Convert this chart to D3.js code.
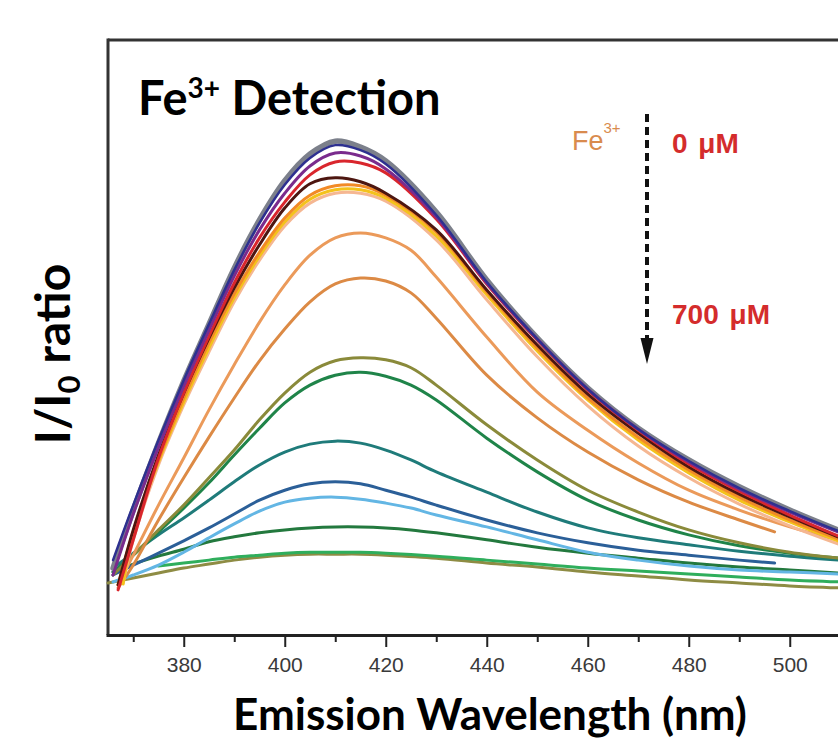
<!DOCTYPE html>
<html>
<head>
<meta charset="utf-8">
<script src="https://cdn.jsdelivr.net/npm/d3@7"></script>
<style>
  body { margin: 0; background: #fff; }
  svg { display: block; }
</style>
</head>
<body>
<div id="chart"></div>
<script>
// tick labels on the wavelength axis
const majorTicks = [380, 400, 420, 440, 460, 480, 500];
const minorTicks = [370, 390, 410, 430, 450, 470, 490, 510];

// emission spectra, [wavelength nm, I/I0] (0 uM on top -> 700 uM at bottom)
const sGray = [[366,0.135],[370,0.252],[375,0.387],[380,0.512],[385,0.627],[390,0.740],[395,0.837],[400,0.916],[405,0.970],[410,0.996],[415,0.984],[420,0.956],[430,0.853],[440,0.716],[450,0.599],[460,0.498],[470,0.417],[480,0.353],[490,0.299],[500,0.252],[510,0.210]];
const sNavy = [[366,0.151],[370,0.262],[375,0.393],[380,0.514],[385,0.627],[390,0.736],[395,0.831],[400,0.908],[405,0.962],[410,0.988],[415,0.978],[420,0.950],[430,0.847],[440,0.712],[450,0.597],[460,0.496],[470,0.415],[480,0.351],[490,0.296],[500,0.250],[510,0.208]];
const sPurple = [[366,0.121],[370,0.244],[375,0.379],[380,0.502],[385,0.615],[390,0.724],[395,0.817],[400,0.891],[405,0.946],[410,0.972],[415,0.966],[420,0.940],[430,0.843],[440,0.710],[450,0.597],[460,0.496],[470,0.415],[480,0.349],[490,0.294],[500,0.248],[510,0.206]];
const sRed = [[367,0.091],[370,0.192],[375,0.357],[380,0.488],[385,0.603],[390,0.710],[395,0.801],[400,0.873],[405,0.928],[410,0.954],[415,0.952],[420,0.932],[430,0.839],[440,0.708],[450,0.595],[460,0.494],[470,0.413],[480,0.345],[490,0.290],[500,0.242],[510,0.198]];
const sBrown = [[367,0.101],[370,0.212],[375,0.363],[380,0.488],[385,0.599],[390,0.700],[395,0.787],[400,0.861],[405,0.910],[410,0.922],[415,0.914],[420,0.891],[430,0.817],[440,0.696],[450,0.585],[460,0.486],[470,0.407],[480,0.339],[490,0.284],[500,0.238],[510,0.196]];
const sOrange = [[367,0.101],[370,0.208],[375,0.353],[380,0.478],[385,0.589],[390,0.688],[395,0.772],[400,0.841],[405,0.887],[410,0.906],[415,0.906],[420,0.887],[430,0.813],[440,0.692],[450,0.579],[460,0.478],[470,0.399],[480,0.333],[490,0.278],[500,0.232],[510,0.192]];
const sYellow = [[368,0.103],[370,0.204],[375,0.349],[380,0.470],[385,0.579],[390,0.680],[395,0.764],[400,0.833],[405,0.879],[410,0.898],[415,0.898],[420,0.881],[430,0.805],[440,0.686],[450,0.573],[460,0.474],[470,0.393],[480,0.327],[490,0.272],[500,0.228],[510,0.188]];
const sPeach = [[368,0.105],[370,0.192],[375,0.343],[380,0.464],[385,0.571],[390,0.672],[395,0.756],[400,0.825],[405,0.871],[410,0.891],[415,0.891],[420,0.875],[430,0.797],[440,0.676],[450,0.561],[460,0.462],[470,0.381],[480,0.317],[490,0.264],[500,0.220],[510,0.182]];
const sOrange1 = [[367,0.101],[370,0.161],[375,0.262],[380,0.357],[385,0.454],[390,0.545],[395,0.631],[400,0.706],[405,0.766],[410,0.801],[415,0.811],[420,0.801],[425,0.776],[430,0.722],[440,0.601],[450,0.490],[460,0.413],[470,0.347],[480,0.292],[490,0.252],[500,0.218],[510,0.190]];
const sOrange2 = [[367,0.095],[370,0.141],[375,0.232],[380,0.317],[385,0.399],[390,0.478],[395,0.553],[400,0.617],[405,0.672],[410,0.708],[415,0.720],[420,0.714],[425,0.690],[430,0.639],[440,0.524],[450,0.438],[460,0.369],[470,0.313],[480,0.268],[490,0.232],[497,0.208]];
const sOlive = [[366,0.121],[370,0.161],[375,0.212],[380,0.262],[385,0.317],[390,0.373],[395,0.434],[400,0.488],[405,0.530],[410,0.553],[415,0.559],[420,0.555],[425,0.539],[430,0.504],[440,0.424],[450,0.353],[460,0.292],[470,0.248],[480,0.212],[490,0.186],[500,0.167],[510,0.155]];
const sGreen = [[366,0.127],[370,0.161],[375,0.208],[380,0.256],[385,0.307],[390,0.363],[395,0.417],[400,0.468],[405,0.504],[410,0.524],[415,0.530],[420,0.522],[425,0.504],[430,0.474],[440,0.397],[450,0.329],[460,0.272],[470,0.232],[480,0.202],[490,0.180],[500,0.165],[510,0.155]];
const sTeal = [[366,0.135],[370,0.165],[375,0.202],[380,0.236],[385,0.272],[390,0.309],[395,0.343],[400,0.369],[405,0.385],[410,0.391],[415,0.387],[420,0.373],[425,0.353],[430,0.329],[440,0.288],[450,0.248],[460,0.216],[470,0.196],[480,0.182],[490,0.169],[500,0.159],[510,0.151]];
const sBlue = [[366,0.121],[370,0.141],[375,0.165],[380,0.190],[385,0.216],[390,0.244],[395,0.272],[400,0.292],[405,0.305],[410,0.309],[415,0.305],[420,0.292],[425,0.278],[430,0.262],[440,0.232],[450,0.206],[460,0.186],[470,0.171],[480,0.161],[490,0.151],[497,0.145]];
const sSky = [[366,0.107],[370,0.121],[375,0.141],[380,0.167],[385,0.196],[390,0.224],[395,0.250],[400,0.268],[405,0.276],[410,0.278],[415,0.274],[420,0.266],[425,0.256],[430,0.242],[440,0.218],[450,0.192],[460,0.167],[470,0.151],[480,0.139],[490,0.131],[500,0.127],[510,0.123]];
const sDkGreen = [[366,0.127],[370,0.143],[375,0.159],[380,0.173],[385,0.188],[390,0.198],[395,0.206],[400,0.212],[405,0.216],[410,0.218],[415,0.218],[420,0.216],[425,0.212],[430,0.206],[440,0.192],[450,0.177],[460,0.165],[470,0.155],[480,0.145],[490,0.137],[500,0.131],[510,0.125]];
const sLtGreen = [[375,0.139],[380,0.145],[385,0.151],[390,0.157],[395,0.161],[400,0.165],[405,0.167],[410,0.167],[415,0.167],[420,0.165],[430,0.159],[440,0.151],[450,0.143],[460,0.135],[470,0.129],[480,0.123],[490,0.117],[500,0.111],[510,0.107]];
const sKhaki = [[365,0.105],[370,0.115],[375,0.125],[380,0.135],[385,0.143],[390,0.151],[395,0.157],[400,0.161],[405,0.163],[410,0.163],[415,0.163],[420,0.161],[430,0.155],[440,0.145],[450,0.137],[460,0.127],[470,0.119],[480,0.111],[490,0.105],[500,0.099],[510,0.095]];

// drawn bottom first so the low-concentration curves sit on top
const series = [sKhaki, sLtGreen, sDkGreen, sSky, sBlue, sTeal, sGreen, sOlive, sOrange2, sOrange1, sGray, sPeach, sYellow, sOrange, sBrown, sRed, sPurple, sNavy];
const colors = ["#8e8c44", "#2fae5c", "#23793e", "#63b6e4", "#2b5f98", "#1f7b7a", "#1f8449", "#8a8a3a", "#dc8a45", "#eb9a5a", "#7c808b", "#f5b792", "#f4c21c", "#f28a26", "#4d1610", "#d9262d", "#7a2b8d", "#2d3090"];
const widths = [3, 3, 3, 3, 3, 3, 3, 3, 3, 3, 5.5, 3, 3, 3, 3, 3, 3, 2.5];

const W = 838, H = 742;
const margin = {top: 40, left: 108, bottom: 107};

const svg = d3.select("#chart").append("svg")
  .attr("width", W)
  .attr("height", H);

const x = d3.scaleLinear()
  .domain([365, 510])
  .range([margin.left, margin.left + 145 * 5.05]);

const y = d3.scaleLinear()
  .domain([0, 1.2])
  .range([H - margin.bottom, margin.top]);

const yBottom = H - margin.bottom;

// frame (right side runs off the picture)
svg.append("line")
  .attr("x1", margin.left).attr("x2", W + 5)
  .attr("y1", margin.top).attr("y2", margin.top)
  .attr("stroke", "#333").attr("stroke-width", 3);
svg.append("line")
  .attr("x1", margin.left).attr("x2", margin.left)
  .attr("y1", margin.top - 1.5).attr("y2", yBottom)
  .attr("stroke", "#333").attr("stroke-width", 3);

// curves
const line = d3.line()
  .x(d => x(d[0]))
  .y(d => y(d[1]))
  .curve(d3.curveCatmullRom.alpha(0.5));

svg.append("g")
  .selectAll("path")
  .data(series)
  .join("path")
  .attr("fill", "none")
  .attr("stroke", (d, i) => colors[i])
  .attr("stroke-width", (d, i) => widths[i])
  .attr("stroke-linecap", "round")
  .attr("stroke-linejoin", "round")
  .attr("d", line);

// x axis, major + minor ticks
const xAxis = svg.append("g")
  .attr("transform", `translate(0,${yBottom})`)
  .call(d3.axisBottom(x).tickValues(majorTicks).tickSize(12).tickSizeOuter(0).tickPadding(10).tickFormat(d3.format("d")));
xAxis.select(".domain").attr("stroke", "#222").attr("stroke-width", 3)
  .attr("d", `M${margin.left - 1.5},0.5H${W + 5}`);
xAxis.selectAll(".tick line").attr("stroke", "#222").attr("stroke-width", 2);
xAxis.selectAll(".tick text")
  .attr("fill", "#3a3a3a")
  .style("font-family", "'Liberation Sans', Arial, sans-serif")
  .style("font-size", "21px");

svg.append("g")
  .attr("transform", `translate(0,${yBottom})`)
  .call(d3.axisBottom(x).tickValues(minorTicks).tickSize(7).tickFormat(""))
  .call(g => g.select(".domain").remove())
  .selectAll(".tick line").attr("stroke", "#222").attr("stroke-width", 2);

// axis titles
svg.append("text")
  .attr("x", 490).attr("y", 730)
  .attr("text-anchor", "middle")
  .style("font-family", "Lato, 'Open Sans', sans-serif")
  .style("font-weight", 700)
  .style("font-size", "44px")
  .text("Emission Wavelength (nm)");

const yl = svg.append("text")
  .attr("transform", "translate(70,354) rotate(-90)")
  .attr("text-anchor", "middle")
  .style("font-family", "Lato, 'Open Sans', sans-serif")
  .style("font-weight", 700)
  .style("font-size", "48px");
yl.append("tspan").text("I/I");
yl.append("tspan").attr("dy", 10).style("font-size", "31px").text("0");
yl.append("tspan").attr("dy", -10).text(" ratio");

// panel title
const t = svg.append("text")
  .attr("x", 138).attr("y", 115)
  .style("font-family", "Lato, 'Open Sans', sans-serif")
  .style("font-weight", 700)
  .style("font-size", "47px");
t.append("tspan").text("Fe");
t.append("tspan").attr("dy", -17).style("font-size", "28px").text("3+");
t.append("tspan").attr("dy", 17).text(" Detection");

// concentration arrow
const ann = svg.append("g").style("font-family", "'Liberation Sans', Arial, sans-serif");
const fe = ann.append("text").attr("x", 572).attr("y", 150).attr("fill", "#d98b4e").style("font-size", "27px");
fe.append("tspan").text("Fe");
fe.append("tspan").attr("dy", -17).style("font-size", "15px").text("3+");

ann.append("line")
  .attr("x1", 647).attr("x2", 647)
  .attr("y1", 114).attr("y2", 340)
  .attr("stroke", "#111").attr("stroke-width", 4)
  .attr("stroke-dasharray", "8,5");
ann.append("path")
  .attr("d", "M640.5,338 L653.5,338 L647,364 Z")
  .attr("fill", "#111");

ann.append("text").attr("x", 672).attr("y", 153)
  .attr("fill", "#d42c2c").style("font-weight", 700).style("font-size", "28px")
  .style("word-spacing", "3px")
  .text("0 μM");
ann.append("text").attr("x", 672).attr("y", 324)
  .attr("fill", "#d42c2c").style("font-weight", 700).style("font-size", "28px")
  .style("word-spacing", "3px")
  .text("700 μM");
</script>
</body>
</html>
